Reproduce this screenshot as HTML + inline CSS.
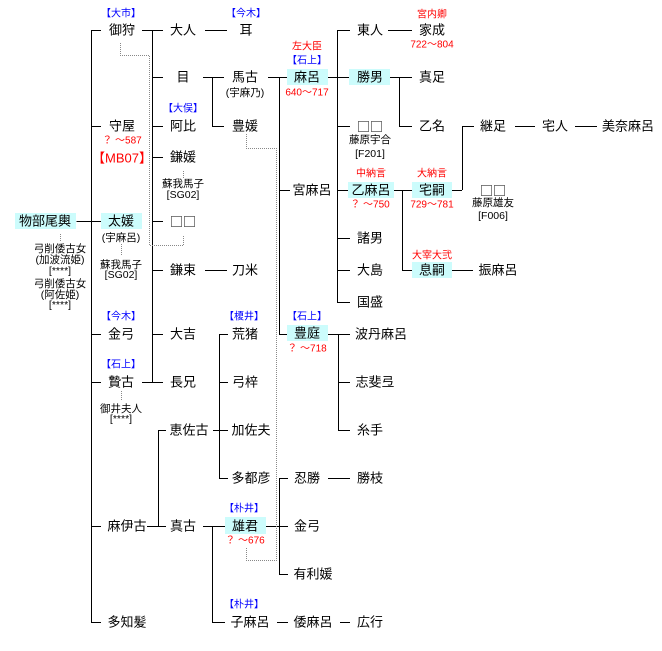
<!DOCTYPE html>
<html><head><meta charset="utf-8"><style>
html,body{margin:0;padding:0;background:#fff;}
svg{display:block;}
text{font-family:"Liberation Sans","Noto Sans CJK JP",sans-serif;dominant-baseline:central;text-anchor:middle;}
.n{font-size:13px;fill:#000;}
.q{font-size:13px;fill:#000;font-family:"Noto Sans CJK JP",sans-serif;}
.s{font-size:10.5px;fill:#000;}
.b{font-size:10px;fill:#00f;}
.r{font-size:10px;fill:#f00;}
.l{stroke:#000;stroke-width:1;fill:none;}
.d{stroke:#888;stroke-width:1;fill:none;stroke-dasharray:1,1;}
</style></head><body>
<svg width="662" height="651" viewBox="0 0 662 651">
<g shape-rendering="crispEdges">
<rect x="15" y="213" width="61" height="16" fill="#ccfcfc"/>
<rect x="101" y="213" width="41" height="16" fill="#ccfcfc"/>
<rect x="287" y="69" width="41" height="16" fill="#ccfcfc"/>
<rect x="349" y="69" width="41" height="16" fill="#ccfcfc"/>
<rect x="348" y="182" width="46" height="16" fill="#ccfcfc"/>
<rect x="412" y="182" width="40" height="16" fill="#ccfcfc"/>
<rect x="412" y="262" width="40" height="16" fill="#ccfcfc"/>
<rect x="287" y="325" width="41" height="16" fill="#ccfcfc"/>
<rect x="225" y="517" width="41" height="17" fill="#ccfcfc"/>

<path class="l" d="M76.5 221.5H101 M91.5 30V622 M91 30.5H101 M91 126.5H101 M91 334.5H101 M91 382.5H101 M91 526.5H101 M91 622.5H101"/>
<path class="l" d="M142 30.5H163 M152.5 30V382 M152 77.5H163 M152 126.5H163 M152 157.5H163 M152 221.5H163 M152 270.5H163 M152 334.5H163 M142 382.5H163"/>
<path class="l" d="M205 30.5H227 M205 270.5H227"/>
<path class="l" d="M203 77.5H224 M212.5 77V126 M212 126.5H224"/>
<path class="l" d="M268 77.5H287 M279.5 77V334 M279 334.5H287 M279 190.5H290"/>
<path class="l" d="M328 77.5H349 M337.5 30V302 M337 30.5H350 M337 126.5H350 M337 190.5H348 M337 238.5H350 M337 270.5H350 M337 302.5H350"/>
<path class="l" d="M388 30.5H412"/>
<path class="l" d="M390 77.5H412 M399.5 77V126 M399 126.5H412"/>
<path class="l" d="M394 190.5H412 M402.5 190V270 M402 270.5H412"/>
<path class="l" d="M452 190.5H462 M462.5 126V190 M462 126.5H474"/>
<path class="l" d="M515 126.5H535 M575 126.5H597 M452 270.5H473"/>
<path class="l" d="M328 334.5H350 M338.5 334V430 M338 382.5H350 M338 430.5H350"/>
<path class="l" d="M219.5 334V478 M219 334.5H228 M219 382.5H228 M213 430.5H228 M219 478.5H228"/>
<path class="l" d="M158.5 430V526 M158 430.5H166 M147 526.5H166"/>
<path class="l" d="M203 526.5H225 M212.5 526V622 M212 622.5H225"/>
<path class="l" d="M266 526.5H288 M279.5 478V574 M279 478.5H288 M279 574.5H288"/>
<path class="l" d="M328 478.5H350 M277 622.5H288 M340 622.5H350"/>
<path class="d" d="M120.5 43V55.5H149.5V245.5H183.5V235"/>
<path class="d" d="M246.5 134V148.5H276.5V560.5H246.5V548"/>
<path class="d" d="M60.5 234V242 M121.5 244V256 M183.5 171V178 M121.5 391V401"/>
</g>

<text class="n" x="45" y="221">物部尾輿</text>
<text class="s" x="60" y="249">弓削倭古女</text>
<text class="s" x="60" y="260">(加波流姫)</text>
<text class="s" x="60" y="271">[****]</text>
<text class="s" x="60" y="284">弓削倭古女</text>
<text class="s" x="60" y="295">(阿佐姫)</text>
<text class="s" x="60" y="305">[****]</text>

<text class="b" x="121" y="14">【大市】</text>
<text class="n" x="122" y="30">御狩</text>
<text class="n" x="122" y="126">守屋</text>
<text class="r" x="122" y="141">？ ～587</text>
<text x="122" y="158" style="font-size:13px;fill:#f00">【MB07】</text>
<text class="n" x="121" y="221">太媛</text>
<text class="s" x="121" y="238">(宇麻呂)</text>
<text class="s" x="121" y="265">蘇我馬子</text>
<text class="s" x="121" y="275">[SG02]</text>
<text class="b" x="121" y="317">【今木】</text>
<text class="n" x="121" y="334">金弓</text>
<text class="b" x="121" y="365">【石上】</text>
<text class="n" x="121" y="382">贄古</text>
<text class="s" x="121" y="409">御井夫人</text>
<text class="s" x="121" y="419">[****]</text>
<text class="n" x="127" y="526">麻伊古</text>
<text class="n" x="127" y="622">多知髪</text>

<text class="n" x="183" y="30">大人</text>
<text class="n" x="183" y="77">目</text>
<text class="b" x="183" y="109">【大俣】</text>
<text class="n" x="183" y="126">阿比</text>
<text class="n" x="183" y="157">鎌媛</text>
<text class="s" x="183" y="184">蘇我馬子</text>
<text class="s" x="183" y="195">[SG02]</text>
<text class="q" x="183" y="221">□□</text>
<text class="n" x="183" y="270">鎌束</text>
<text class="n" x="183" y="334">大吉</text>
<text class="n" x="183" y="382">長兄</text>
<text class="n" x="189" y="430">恵佐古</text>
<text class="n" x="183" y="526">真古</text>

<text class="b" x="246" y="14">【今木】</text>
<text class="n" x="246" y="30">耳</text>
<text class="n" x="245" y="77">馬古</text>
<text class="s" x="245" y="93">(宇麻乃)</text>
<text class="n" x="245" y="126">豊媛</text>
<text class="n" x="245" y="270">刀米</text>
<text class="b" x="244" y="317">【榎井】</text>
<text class="n" x="245" y="334">荒猪</text>
<text class="n" x="245" y="382">弓梓</text>
<text class="n" x="251" y="430">加佐夫</text>
<text class="n" x="251" y="478">多都彦</text>
<text class="b" x="244" y="509">【朴井】</text>
<text class="n" x="245" y="526">雄君</text>
<text class="r" x="245" y="541">？ ～676</text>
<text class="b" x="244" y="605">【朴井】</text>
<text class="n" x="250" y="622">子麻呂</text>

<text class="r" x="307" y="47">左大臣</text>
<text class="b" x="307" y="61">【石上】</text>
<text class="n" x="307" y="77">麻呂</text>
<text class="r" x="307" y="93">640～717</text>
<text class="n" x="312" y="190">宮麻呂</text>
<text class="b" x="307" y="317">【石上】</text>
<text class="n" x="307" y="333">豊庭</text>
<text class="r" x="307" y="349">？ ～718</text>
<text class="n" x="307" y="478">忍勝</text>
<text class="n" x="307" y="526">金弓</text>
<text class="n" x="313" y="574">有利媛</text>
<text class="n" x="313" y="622">倭麻呂</text>

<text class="n" x="370" y="30">東人</text>
<text class="n" x="370" y="77">勝男</text>
<text class="q" x="370" y="126">□□</text>
<text class="s" x="370" y="140">藤原宇合</text>
<text class="s" x="370" y="154">[F201]</text>
<text class="r" x="371" y="174">中納言</text>
<text class="n" x="371" y="190">乙麻呂</text>
<text class="r" x="370" y="205">？ ～750</text>
<text class="n" x="370" y="238">諸男</text>
<text class="n" x="370" y="270">大島</text>
<text class="n" x="370" y="302">国盛</text>
<text class="n" x="381" y="334">波丹麻呂</text>
<text class="n" x="375" y="382">志斐弖</text>
<text class="n" x="370" y="430">糸手</text>
<text class="n" x="370" y="478">勝枝</text>
<text class="n" x="370" y="622">広行</text>

<text class="r" x="432" y="15">宮内卿</text>
<text class="n" x="432" y="30">家成</text>
<text class="r" x="432" y="45">722～804</text>
<text class="n" x="432" y="77">真足</text>
<text class="n" x="432" y="126">乙名</text>
<text class="r" x="432" y="174">大納言</text>
<text class="n" x="432" y="190">宅嗣</text>
<text class="r" x="432" y="205">729～781</text>
<text class="r" x="432" y="256">大宰大弐</text>
<text class="n" x="432" y="270">息嗣</text>

<text class="n" x="493" y="126">継足</text>
<text class="q" x="493" y="190">□□</text>
<text class="s" x="493" y="203">藤原雄友</text>
<text class="s" x="493" y="216">[F006]</text>
<text class="n" x="498" y="270">振麻呂</text>
<text class="n" x="555" y="126">宅人</text>
<text class="n" x="628" y="126">美奈麻呂</text>
</svg>
</body></html>
